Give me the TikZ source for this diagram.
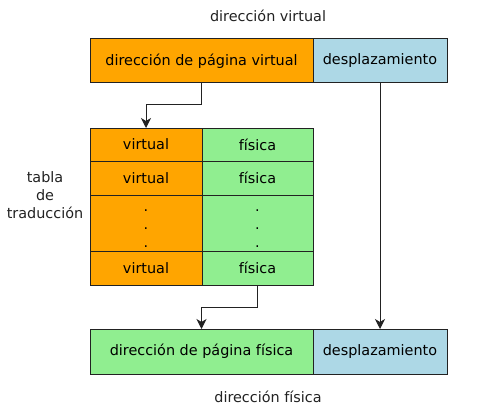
\documentclass[tikz,border=0pt]{standalone}
\usepackage{fontspec}
\setmainfont{DejaVu Sans}
\usetikzlibrary{arrows.meta}
\definecolor{corange}{HTML}{FFA500}
\definecolor{cgreen}{HTML}{90EE90}
\definecolor{cblue}{HTML}{ADD8E6}
\definecolor{cline}{HTML}{222222}
\begin{document}
\begin{tikzpicture}[x=1pt,y=-1pt,
  every node/.style={font=\fontsize{14.4}{18}\selectfont, inner sep=0pt, outer sep=0pt},
  cell/.style={draw=cline, line width=1pt, minimum width=#1},
  ocell/.style={cell=#1, fill=corange},
  gcell/.style={cell=#1, fill=cgreen},
  bcell/.style={cell=#1, fill=cblue},
  arr/.style={draw=cline, line width=1pt, -{Stealth[length=10pt,width=10pt,inset=3pt]}},
  lbl/.style={text=cline}]
\useasboundingbox (0,0) rectangle (486,417);
% top
\node[ocell=223, minimum height=44] (vpn) at (201.5,61) {dirección de página virtual};
\node[bcell=134, minimum height=44] (off1) at (380,61) {desplazamiento};
% table
\node[ocell=112, minimum height=33] (v1) at (146,144.5) {virtual};
\node[gcell=111, minimum height=33] (f1) at (257.5,144.5) {física};
\node[ocell=112, minimum height=34] (v2) at (146,178) {virtual};
\node[gcell=111, minimum height=34] (f2) at (257.5,178) {física};
\node[ocell=112, minimum height=56, align=center] (v3) at (146,223) {\rule{0pt}{12.5pt}.\\.\\.};
\node[gcell=111, minimum height=56, align=center] (f3) at (257.5,223) {\rule{0pt}{12.5pt}.\\.\\.};
\node[ocell=112, minimum height=34] (v4) at (146,268) {virtual};
\node[gcell=111, minimum height=34] (f4) at (257.5,268) {física};
% bottom
\node[gcell=223, minimum height=45] (ppn) at (201.5,351.5) {dirección de página física};
\node[bcell=134, minimum height=45] (off2) at (380,351.5) {desplazamiento};
% labels
\node[lbl] (tv) at (268,16) {dirección virtual};
\node[lbl] (tf) at (268,397) {dirección física};
\node[lbl, align=center] (tt) at (45,195) {tabla\\de\\traducción};
% connectors
\draw[arr] (vpn.south) -- ++(0,21) -| (v1.north);
\draw[arr] (off1.south) -- (off2.north);
\draw[arr] (f4.south) -- ++(0,22) -| (ppn.north);
\end{tikzpicture}
\end{document}
